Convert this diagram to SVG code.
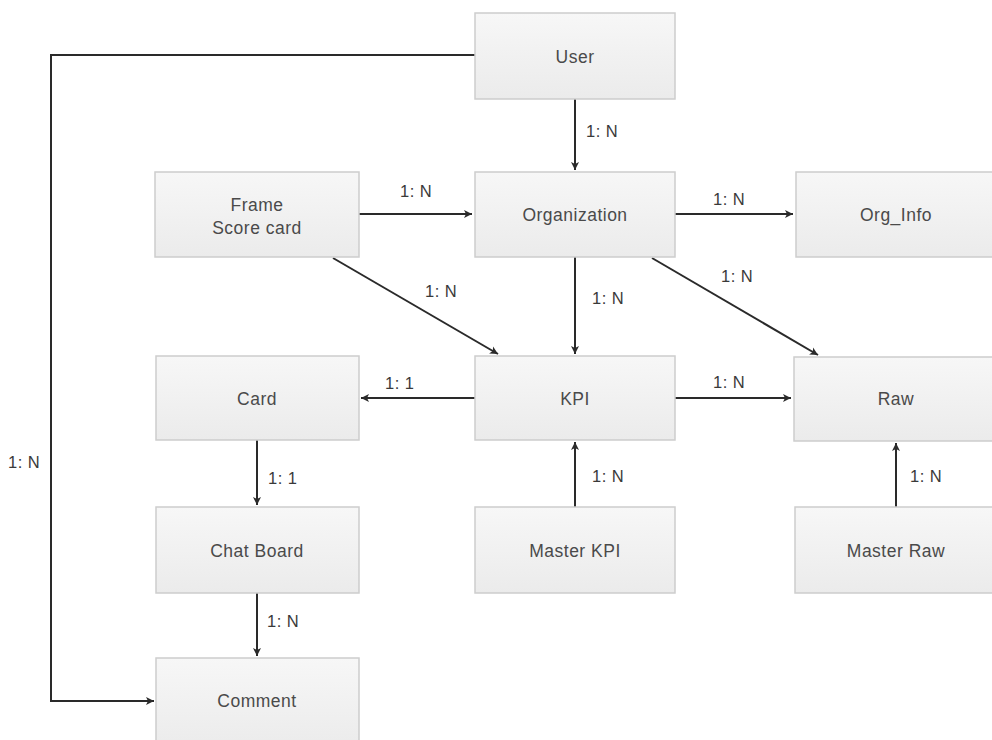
<svg xmlns="http://www.w3.org/2000/svg" width="992" height="740" viewBox="0 0 992 740">
<defs>
<linearGradient id="g" x1="0" y1="0" x2="0" y2="1">
<stop offset="0" stop-color="#f7f7f7"/>
<stop offset="1" stop-color="#ebebeb"/>
</linearGradient>
<marker id="ah" viewBox="0 0 10 10" refX="9" refY="5" markerWidth="10" markerHeight="10" markerUnits="userSpaceOnUse" orient="auto">
<path d="M1,1 L9,5 L1,9 L3,5 Z" fill="#2a2a2a"/>
</marker>
<style>
.box{fill:url(#g);stroke:#cdcdcd;stroke-width:1.5}
.t{font-family:"Liberation Sans",Arial,sans-serif;font-size:17.5px;letter-spacing:0.5px;fill:#4a4a4a;text-anchor:middle}
.l{font-family:"Liberation Sans",Arial,sans-serif;font-size:16.5px;letter-spacing:0.5px;fill:#3a3a3a}
.c{fill:none;stroke:#2a2a2a;stroke-width:2;marker-end:url(#ah)}
</style>
</defs>
<rect width="992" height="740" fill="#ffffff"/>
<g id="connectors">
<path class="c" d="M475,55 H51 V701 H154"/>
<path class="c" d="M575,99 V170"/>
<path class="c" d="M359,214 H472"/>
<path class="c" d="M675,214 H793"/>
<path class="c" d="M333,258 L498,354"/>
<path class="c" d="M575,257 V354"/>
<path class="c" d="M652,258 L818,355"/>
<path class="c" d="M475,398 H361"/>
<path class="c" d="M675,398 H791"/>
<path class="c" d="M257,440 V505"/>
<path class="c" d="M575,507 V442"/>
<path class="c" d="M896,507 V443"/>
<path class="c" d="M257,593 V656"/>
<text class="l" x="586" y="137">1: N</text>
<text class="l" x="400" y="197">1: N</text>
<text class="l" x="713" y="205">1: N</text>
<text class="l" x="425" y="297">1: N</text>
<text class="l" x="592" y="304">1: N</text>
<text class="l" x="721" y="282">1: N</text>
<text class="l" x="385" y="389">1: 1</text>
<text class="l" x="713" y="388">1: N</text>
<text class="l" x="268" y="484">1: 1</text>
<text class="l" x="592" y="482">1: N</text>
<text class="l" x="910" y="482">1: N</text>
<text class="l" x="267" y="627">1: N</text>
<text class="l" x="8" y="468">1: N</text>
</g>
<g id="user"><rect class="box" x="475" y="13" width="200" height="86"/><text class="t" x="575" y="63">User</text></g>
<g id="frame"><rect class="box" x="155" y="172" width="204" height="85"/><text class="t" x="257" y="211">Frame</text><text class="t" x="257" y="234">Score card</text></g>
<g id="organization"><rect class="box" x="475" y="172" width="200" height="85"/><text class="t" x="575" y="221">Organization</text></g>
<g id="org_info"><rect class="box" x="796" y="172" width="200" height="85"/><text class="t" x="896" y="221">Org_Info</text></g>
<g id="card"><rect class="box" x="156" y="356" width="203" height="84"/><text class="t" x="257" y="405">Card</text></g>
<g id="kpi"><rect class="box" x="475" y="356" width="200" height="84"/><text class="t" x="575" y="405">KPI</text></g>
<g id="raw"><rect class="box" x="794" y="357" width="200" height="84"/><text class="t" x="896" y="405">Raw</text></g>
<g id="chat_board"><rect class="box" x="156" y="507" width="203" height="86"/><text class="t" x="257" y="557">Chat Board</text></g>
<g id="master_kpi"><rect class="box" x="475" y="507" width="200" height="86"/><text class="t" x="575" y="557">Master KPI</text></g>
<g id="master_raw"><rect class="box" x="795" y="507" width="200" height="86"/><text class="t" x="896" y="557">Master Raw</text></g>
<g id="comment"><rect class="box" x="156" y="658" width="203" height="90"/><text class="t" x="257" y="707">Comment</text></g>
</svg>
